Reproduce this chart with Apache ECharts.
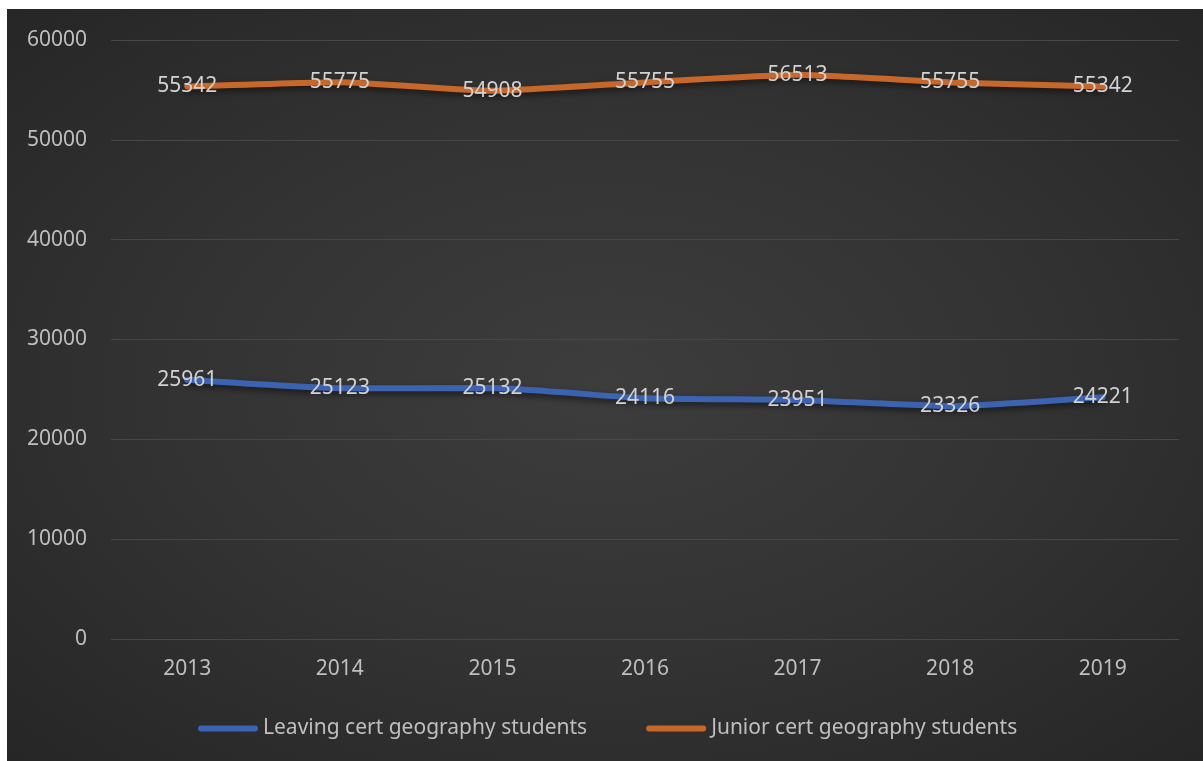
<!DOCTYPE html>
<html>
<head>
<meta charset="utf-8">
<script src="https://cdn.jsdelivr.net/npm/echarts@6/dist/echarts.min.js"></script>
<style>
html,body{margin:0;padding:0;background:#ffffff;width:1203px;height:761px;overflow:hidden;}
#chart{position:absolute;left:7px;top:9px;width:1196px;height:752px;
background:radial-gradient(ellipse at 50% 50%, #3d3d3d 0%, #333333 50%, #262626 100%);}
</style>
</head>
<body>
<div id="chart"></div>
<script>
var categories = ['2013','2014','2015','2016','2017','2018','2019'];
var leavingCert = [25961, 25123, 25132, 24116, 23951, 23326, 24221];
var juniorCert = [55342, 55775, 54908, 55755, 56513, 55755, 55342];
var seriesNames = ['Leaving cert geography students', 'Junior cert geography students'];
var seriesColors = ['#3b63b2', '#c8672a'];
var yTicks = {min: 0, max: 60000, interval: 10000};

var FONT = '"Noto Sans", "Open Sans", sans-serif';
var chart = echarts.init(document.getElementById('chart'), null, {renderer: 'canvas'});
var iconPath = 'path://M3,0 L57,0 A3,3 0 0 1 57,6 L3,6 A3,3 0 0 1 3,0 Z';

function mkSeries(name, data, color) {
  return {
    name: name,
    type: 'line',
    data: data,
    symbol: 'circle',
    symbolSize: 2,
    showSymbol: true,
    smooth: 0.15,
    lineStyle: {width: 6, color: color, shadowColor: 'rgba(0,0,0,0.55)', shadowBlur: 6, shadowOffsetY: 3, cap: 'round'},
    itemStyle: {color: 'rgba(0,0,0,0)', borderWidth: 0},
    label: {
      show: true, position: 'inside', color: '#d2d2d2', fontSize: 21, fontFamily: FONT,
      align: 'center', verticalAlign: 'middle',
      formatter: function (p) { return String(p.value); }
    },
    labelLayout: {hideOverlap: false},
    emphasis: {disabled: true},
    animation: false
  };
}

chart.setOption({
  backgroundColor: 'transparent',
  animation: false,
  grid: {left: 104, right: 24, top: 31, bottom: 122, containLabel: false},
  legend: {
    data: seriesNames.map(function (n, i) { return {name: n, icon: iconPath, itemStyle: {color: seriesColors[i], opacity: 1}}; }),
    left: 186, top: 704,
    itemWidth: 60, itemHeight: 6, itemGap: 59,
    textStyle: {color: '#bfbfbf', fontSize: 21, fontFamily: FONT}
  },
  xAxis: {
    type: 'category', data: categories, boundaryGap: true,
    axisLine: {show: false}, axisTick: {show: false},
    axisLabel: {color: '#bfbfbf', fontSize: 21, fontFamily: FONT, margin: 20},
    splitLine: {show: false}
  },
  yAxis: {
    type: 'value', min: yTicks.min, max: yTicks.max, interval: yTicks.interval,
    axisLine: {show: false}, axisTick: {show: false},
    axisLabel: {color: '#bfbfbf', fontSize: 21, fontFamily: FONT, margin: 24,
      formatter: function (v) { return String(v); }},
    splitLine: {lineStyle: {color: '#474747', width: 1}}
  },
  series: [
    mkSeries(seriesNames[0], leavingCert, seriesColors[0]),
    mkSeries(seriesNames[1], juniorCert, seriesColors[1])
  ]
});
</script>
</body>
</html>
